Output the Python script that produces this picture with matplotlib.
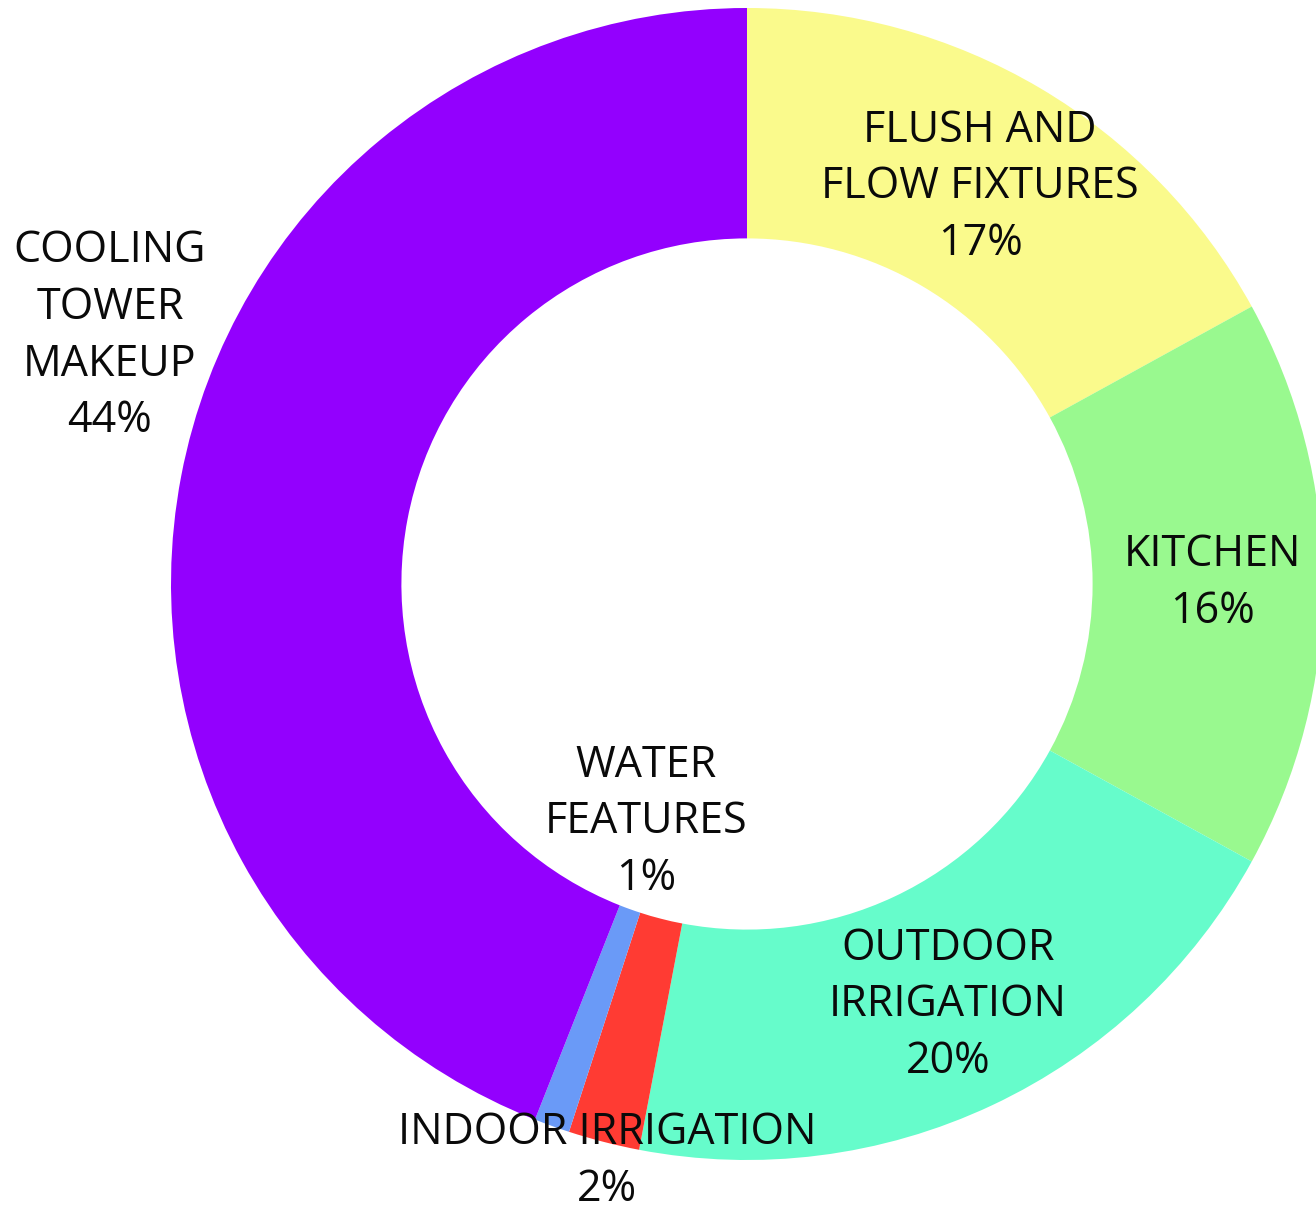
import matplotlib.pyplot as plt

# data (clockwise from 12 o'clock)
labels = ["FLUSH AND\nFLOW FIXTURES", "KITCHEN", "OUTDOOR\nIRRIGATION",
          "INDOOR IRRIGATION", "WATER\nFEATURES", "COOLING\nTOWER\nMAKEUP"]
shares = [17, 16, 20, 2, 1, 44]
colors = ["#fafa8c", "#99f98f", "#66fccb", "#ff3b33", "#6a9af7", "#9300fe"]

# label centres in pixel coords (x, y from top)
label_pos = [(980, 187), (1212, 583), (948, 1005), (607, 1161), (646, 822), (110, 336)]

W, H = 1316, 1211
cx, cy, R = 747, 584, 576

plt.rcParams['font.family'] = ['Open Sans', 'DejaVu Sans']
fig = plt.figure(figsize=(W / 100, H / 100), dpi=100)
ax = fig.add_axes([0, 0, 1, 1])
ax.pie(shares, colors=colors, startangle=90, counterclock=False,
       center=(cx, H - cy), radius=R,
       wedgeprops=dict(width=R * 0.4, linewidth=0))
ax.set_xlim(0, W)
ax.set_ylim(0, H)
ax.axis('off')

for lab, val, (x, y) in zip(labels, shares, label_pos):
    ax.text(x, H - y, "{}\n{}%".format(lab, val), ha='center', va='center',
            fontsize=31, color='#0a0a0a', linespacing=1.36)

fig.savefig("out.png", dpi=100)
